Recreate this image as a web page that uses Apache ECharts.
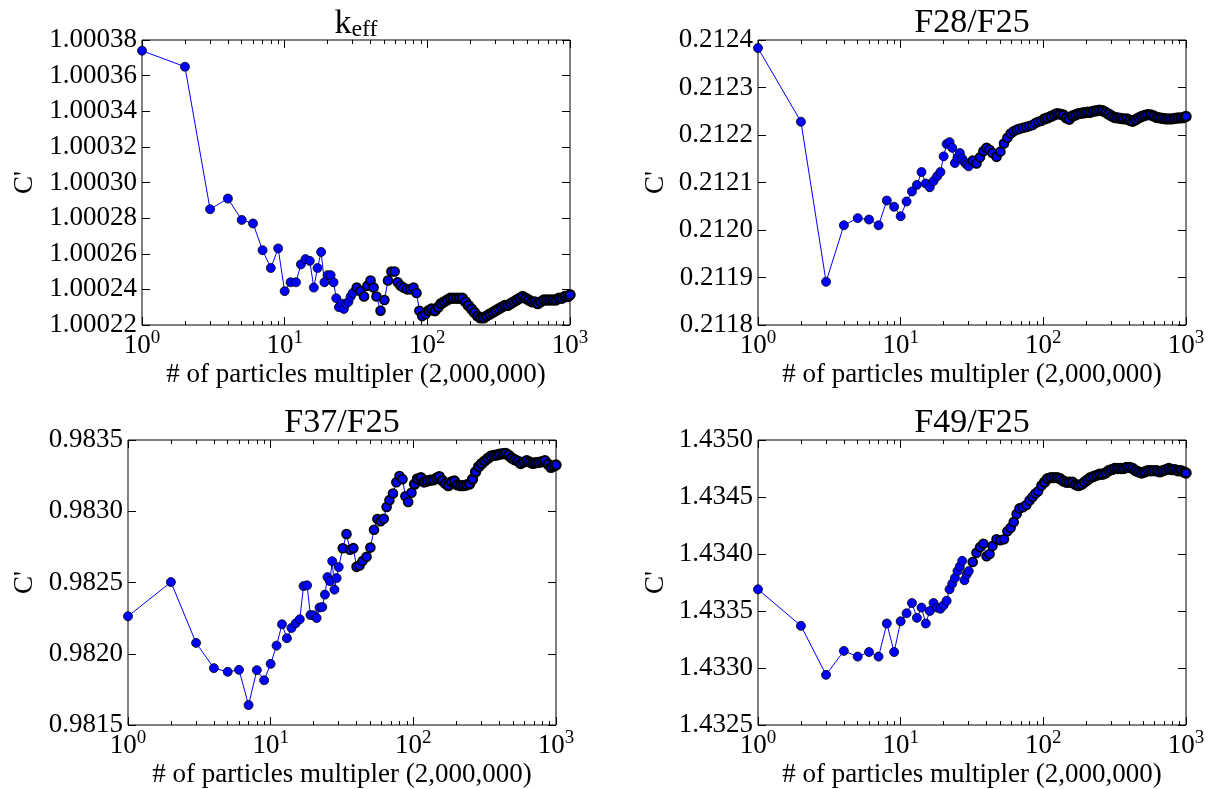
<!DOCTYPE html>
<html>
<head>
<meta charset="utf-8">
<script src="https://cdn.jsdelivr.net/npm/echarts@6/dist/echarts.min.js"></script>
<style>
  html, body { margin: 0; padding: 0; background: #fff; }
  #chart { width: 1209px; height: 789px; }
</style>
</head>
<body>
<div id="chart"></div>
<script>
// particle multiplier (x values), shared by all four panels
var multiplier = [
  1, 2, 3, 4, 5, 6, 7, 8, 9, 10,
  11, 12, 13, 14, 15, 16, 17, 18, 19, 20,
  21, 22, 23, 24, 25, 26, 27, 28, 29, 30,
  32, 34, 36, 38, 40, 42, 44, 47, 50, 53,
  56, 59, 62, 65, 68, 72, 76, 80, 84, 88,
  92, 97, 102, 107, 113, 119, 125, 131, 138, 145,
  152, 160, 168, 176, 185, 194, 204, 214, 225, 236,
  248, 260, 273, 287, 301, 316, 332, 349, 366, 384,
  403, 423, 444, 466, 489, 513, 539, 566, 594, 624,
  655, 688, 722, 758, 796, 836, 878, 922, 968, 1000
];

var keff = [
  1.000374, 1.000365, 1.000285, 1.000291, 1.000279, 1.000277, 1.000262, 1.000252, 1.000263, 1.000239,
  1.000244, 1.000244, 1.000254, 1.000257, 1.000256, 1.000241, 1.000252, 1.000261, 1.000244, 1.000248,
  1.000248, 1.000244, 1.000235, 1.000230, 1.000232, 1.000229, 1.000232, 1.000233, 1.000236, 1.000238,
  1.000241, 1.000239, 1.000236, 1.000242, 1.000245, 1.000241, 1.000236, 1.000228, 1.000234, 1.000245,
  1.000250, 1.000250, 1.000244, 1.000242, 1.000241, 1.000240, 1.000240, 1.000241, 1.000238, 1.000228,
  1.000225, 1.000226, 1.000228, 1.000229, 1.000228, 1.000230, 1.000232, 1.000233, 1.000234, 1.000235,
  1.000235, 1.000235, 1.000235, 1.000235, 1.000233, 1.000231, 1.000229, 1.000227, 1.000225, 1.000224,
  1.000224, 1.000225, 1.000226, 1.000227, 1.000228, 1.000229, 1.000230, 1.000231, 1.000231, 1.000232,
  1.000233, 1.000234, 1.000235, 1.000236, 1.000235, 1.000234, 1.000233, 1.000233, 1.000232, 1.000233,
  1.000234, 1.000234, 1.000234, 1.000234, 1.000234, 1.000235, 1.000235, 1.000236, 1.000236, 1.000237
];

var f28 = [
  0.212383, 0.212228, 0.211891, 0.212010, 0.212025, 0.212022, 0.212010, 0.212062, 0.212049, 0.212029,
  0.212060, 0.212081, 0.212095, 0.212122, 0.212098, 0.212090, 0.212103, 0.212113, 0.212122, 0.212155,
  0.212181, 0.212185, 0.212173, 0.212141, 0.212152, 0.212162, 0.212150, 0.212143, 0.212138, 0.212134,
  0.212146, 0.212140, 0.212153, 0.212166, 0.212173, 0.212169, 0.212162, 0.212154, 0.212165, 0.212182,
  0.212194, 0.212203, 0.212208, 0.212211, 0.212213, 0.212215, 0.212217, 0.212219, 0.212221, 0.212225,
  0.212228, 0.212230, 0.212234, 0.212236, 0.212239, 0.212242, 0.212245, 0.212244, 0.212242, 0.212236,
  0.212233, 0.212240, 0.212242, 0.212245, 0.212246, 0.212247, 0.212248, 0.212248, 0.212250, 0.212251,
  0.212252, 0.212251, 0.212248, 0.212244, 0.212240, 0.212237, 0.212236, 0.212235, 0.212234, 0.212234,
  0.212231, 0.212229, 0.212232, 0.212236, 0.212239, 0.212241, 0.212243, 0.212242, 0.212240, 0.212237,
  0.212236, 0.212235, 0.212234, 0.212234, 0.212234, 0.212235, 0.212236, 0.212236, 0.212237, 0.212239
];

var f37 = [
  0.982263, 0.982503, 0.982076, 0.981899, 0.981873, 0.981887, 0.981640, 0.981885, 0.981814, 0.981929,
  0.982057, 0.982207, 0.982109, 0.982181, 0.982214, 0.982242, 0.982475, 0.982480, 0.982272, 0.982270,
  0.982251, 0.982324, 0.982328, 0.982415, 0.982538, 0.982510, 0.982650, 0.982450, 0.982531, 0.982608,
  0.982740, 0.982840, 0.982730, 0.982741, 0.982610, 0.982620, 0.982650, 0.982680, 0.982745, 0.982870,
  0.982945, 0.982930, 0.982947, 0.983030, 0.983078, 0.983125, 0.983203, 0.983247, 0.983225, 0.983105,
  0.983065, 0.983130, 0.983190, 0.983227, 0.983235, 0.983205, 0.983212, 0.983218, 0.983220, 0.983232,
  0.983243, 0.983215, 0.983195, 0.983180, 0.983205, 0.983212, 0.983185, 0.983180, 0.983180, 0.983184,
  0.983192, 0.983225, 0.983275, 0.983312, 0.983334, 0.983352, 0.983370, 0.983386, 0.983392, 0.983395,
  0.983400, 0.983403, 0.983406, 0.983392, 0.983374, 0.983362, 0.983352, 0.983335, 0.983345, 0.983355,
  0.983345, 0.983336, 0.983340, 0.983343, 0.983348, 0.983355, 0.983330, 0.983308, 0.983318, 0.983325
];

var f49 = [
  1.43369, 1.43337, 1.43294, 1.43315, 1.43310, 1.43314, 1.43310, 1.43339, 1.43314, 1.43341,
  1.43348, 1.43357, 1.43344, 1.43353, 1.43339, 1.43350, 1.43357, 1.43353, 1.43352, 1.43355,
  1.43359, 1.43369, 1.43374, 1.43379, 1.43385, 1.43389, 1.43394, 1.43377, 1.43382, 1.43385,
  1.43393, 1.43401, 1.43406, 1.43409, 1.43398, 1.43400, 1.43407, 1.43413, 1.43412, 1.43413,
  1.43420, 1.43423, 1.43428, 1.43435, 1.43440, 1.43441, 1.43443, 1.43447, 1.43450, 1.43453,
  1.43455, 1.43460, 1.43463, 1.43466, 1.43467, 1.43467, 1.43467, 1.43466, 1.43464, 1.43463,
  1.43463, 1.43463, 1.43461, 1.43460, 1.43461, 1.43463, 1.43465, 1.43467, 1.43468, 1.43469,
  1.43470, 1.43470, 1.43471, 1.43473, 1.43474, 1.43475, 1.43475, 1.43475, 1.43475, 1.43476,
  1.43476, 1.43475, 1.43473, 1.43472, 1.43471, 1.43472, 1.43473, 1.43473, 1.43473, 1.43473,
  1.43472, 1.43473, 1.43474, 1.43475, 1.43474, 1.43474, 1.43473, 1.43473, 1.43472, 1.43471
];

var minorTicks = [2, 3, 4, 5, 6, 7, 8, 9, 20, 30, 40, 50, 60, 70, 80, 90, 200, 300, 400, 500, 600, 700, 800, 900];

var FONT = 'Liberation Serif';

var panels = [
  { title: '{k|k}{sub|eff}', values: keff, min: 1.00022, max: 1.00038, interval: 0.00002, digits: 5, left: 142, top: 40, nameGap: 104 },
  { title: 'F28/F25', values: f28, min: 0.2118, max: 0.2124, interval: 0.0001, digits: 4, left: 758, top: 40, nameGap: 89 },
  { title: 'F37/F25', values: f37, min: 0.9815, max: 0.9835, interval: 0.0005, digits: 4, left: 128, top: 440, nameGap: 90 },
  { title: 'F49/F25', values: f49, min: 1.4325, max: 1.4350, interval: 0.0005, digits: 4, left: 758, top: 440, nameGap: 89 }
];

var W = 428, H = 285;

// in the original every integer multiplier is a marker, so the dense part reads as a dark band;
// thicker outlines there give the same look with fewer markers
function edgeWidth(n) {
  if (n <= 30) return 0.8;
  if (n < 100) return 1.6;
  return 2.4;
}

var grids = [], xAxes = [], yAxes = [], series = [], titles = [];

panels.forEach(function (p, i) {
  grids.push({
    left: p.left, top: p.top, width: W, height: H,
    show: true, borderColor: '#000', borderWidth: 1, backgroundColor: 'transparent'
  });

  titles.push({
    text: p.title,
    left: p.left + W / 2,
    top: p.top - 34,
    textAlign: 'center',
    padding: 0,
    textStyle: {
      fontFamily: FONT, fontSize: 34, fontWeight: 'normal', color: '#000',
      rich: {
        k: { fontFamily: FONT, fontSize: 34, color: '#000' },
        sub: { fontFamily: FONT, fontSize: 24, color: '#000', padding: [12, 0, 0, 0] }
      }
    }
  });

  var logBase = {
    type: 'log', logBase: 10, min: 1, max: 1000, gridIndex: i,
    axisLine: { show: false }, splitLine: { show: false }
  };

  // bottom, major ticks + labels
  xAxes.push(Object.assign({}, logBase, {
    position: 'bottom',
    axisTick: { show: true, inside: true, length: 8, lineStyle: { color: '#000', width: 1 } },
    axisLabel: {
      show: true, margin: 4,
      formatter: function (v) { return '{b|10}{s|' + Math.round(Math.log10(v)) + '}'; },
      rich: {
        b: { fontFamily: FONT, fontSize: 27, color: '#000' },
        s: { fontFamily: FONT, fontSize: 19, color: '#000', padding: [0, 0, 14, 0] }
      }
    },
    name: '# of particles multipler (2,000,000)',
    nameLocation: 'middle', nameGap: 36,
    nameTextStyle: { fontFamily: FONT, fontSize: 27, color: '#000' }
  }));
  // bottom, minor ticks
  xAxes.push(Object.assign({}, logBase, {
    position: 'bottom',
    axisTick: { show: true, inside: true, length: 4, customValues: minorTicks, lineStyle: { color: '#000', width: 1 } },
    axisLabel: { show: false }
  }));
  // top, major ticks
  xAxes.push(Object.assign({}, logBase, {
    position: 'top',
    axisTick: { show: true, inside: true, length: 8, lineStyle: { color: '#000', width: 1 } },
    axisLabel: { show: false }
  }));
  // top, minor ticks
  xAxes.push(Object.assign({}, logBase, {
    position: 'top',
    axisTick: { show: true, inside: true, length: 4, customValues: minorTicks, lineStyle: { color: '#000', width: 1 } },
    axisLabel: { show: false }
  }));

  yAxes.push({
    type: 'value', gridIndex: i, position: 'left',
    min: p.min, max: p.max, interval: p.interval,
    axisLine: { show: false }, splitLine: { show: false },
    axisTick: { show: true, inside: true, length: 8, lineStyle: { color: '#000', width: 1 } },
    axisLabel: {
      margin: 5, fontFamily: FONT, fontSize: 27, color: '#000',
      formatter: (function (d) { return function (v) { return v.toFixed(d); }; })(p.digits)
    },
    name: "C'", nameLocation: 'middle', nameGap: p.nameGap, nameRotate: 90,
    nameTextStyle: { fontFamily: FONT, fontSize: 27, color: '#000' }
  });
  yAxes.push({
    type: 'value', gridIndex: i, position: 'right',
    min: p.min, max: p.max, interval: p.interval,
    axisLine: { show: false }, splitLine: { show: false },
    axisTick: { show: true, inside: true, length: 8, lineStyle: { color: '#000', width: 1 } },
    axisLabel: { show: false }
  });

  series.push({
    type: 'line',
    xAxisIndex: i * 4,
    yAxisIndex: i * 2,
    data: multiplier.map(function (n, k) {
      return { value: [n, p.values[k]], itemStyle: { borderWidth: edgeWidth(n) } };
    }),
    symbol: 'circle',
    symbolSize: 9,
    showAllSymbol: true,
    clip: false,
    lineStyle: { color: '#0000ff', width: 1 },
    itemStyle: { color: '#0000ff', borderColor: '#000', borderWidth: 0.8 },
    emphasis: { disabled: true }
  });
});

var chart = echarts.init(document.getElementById('chart'), null, { renderer: 'canvas' });
chart.setOption({
  animation: false,
  backgroundColor: '#fff',
  title: titles,
  grid: grids,
  xAxis: xAxes,
  yAxis: yAxes,
  series: series
});
</script>
</body>
</html>
